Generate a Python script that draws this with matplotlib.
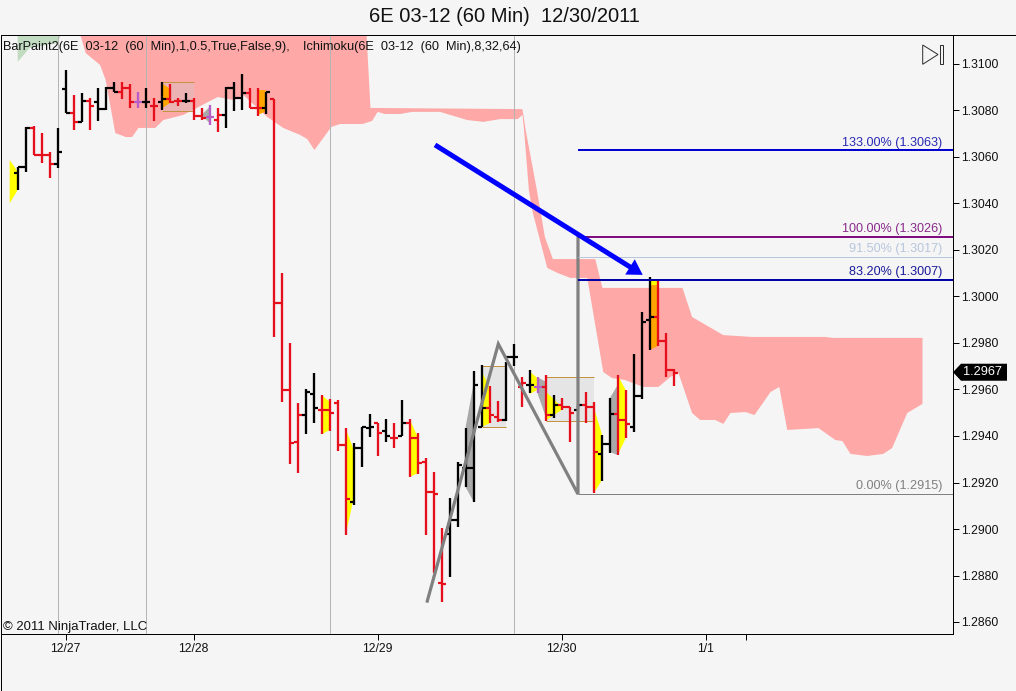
import matplotlib
matplotlib.use("Agg")
import matplotlib.pyplot as plt
from matplotlib.patches import Polygon, Rectangle
from matplotlib.lines import Line2D

plt.rcParams['font.family'] = ['Liberation Sans', 'DejaVu Sans']

W, H = 1016, 691
BG = '#F5F5F5'

# ---------- OHLC data, 60 min bars ----------
opens = [1.30533,1.30556,1.30723,1.30609,1.30609,1.3057,1.30894,1.30791,1.30752,1.30842,
 1.30835,1.30805,1.30898,1.30881,1.30895,1.30835,1.30835,1.30821,1.30835,1.30848,
 1.30842,1.30842,1.30842,1.30776,1.30771,1.30759,1.30781,1.30898,1.30852,1.30874,
 1.30812,1.30812,1.30851,1.29973,1.29598,1.29375,1.2949,1.29581,1.29512,1.29512,
 1.29543,1.29361,1.29118,1.2935,1.29433,1.29454,1.29421,1.29393,1.294,1.29454,
 1.29393,1.29287,1.29158,1.28766,1.28978,1.29039,1.29261,1.29261,1.2944,1.29522,
 1.29483,1.29469,1.29741,1.29609,1.29619,1.29612,1.29612,1.2949,1.29533,1.29523,
 1.29512,1.29533,1.29523,1.29323,1.29364,1.29493,1.29469,1.2944,1.29572,1.29899,
 1.29913,1.29809,1.29684]
highs = [1.30556,1.3073,1.30733,1.30702,1.30623,1.30723,1.30974,1.30867,1.30874,1.30852,
 1.30895,1.30903,1.30924,1.30924,1.30914,1.30881,1.30895,1.30852,1.30924,1.30914,
 1.30852,1.30874,1.30852,1.30812,1.30824,1.30812,1.30903,1.30924,1.30956,1.30895,
 1.30895,1.30881,1.30851,1.30102,1.29801,1.29543,1.29601,1.29672,1.29576,1.29558,
 1.29555,1.29433,1.29371,1.2944,1.29493,1.29454,1.29472,1.29454,1.29555,1.29472,
 1.29411,1.29304,1.29244,1.29003,1.29132,1.2929,1.29433,1.29681,1.29705,1.29615,
 1.29552,1.2972,1.29794,1.29652,1.29684,1.29655,1.29662,1.29576,1.29562,1.29526,
 1.29533,1.29591,1.29545,1.29404,1.29562,1.29662,1.29598,1.29751,1.29932,1.30085,
 1.3007,1.29842,1.29687]
lows = [1.30458,1.30537,1.30609,1.30576,1.30508,1.30551,1.30788,1.30716,1.30752,1.30716,
 1.30756,1.30802,1.30881,1.30848,1.30809,1.30809,1.30809,1.30756,1.30802,1.30831,
 1.30819,1.30831,1.30759,1.30759,1.30738,1.30709,1.30726,1.30799,1.30802,1.30809,
 1.30776,1.30785,1.29827,1.29548,1.29278,1.29239,1.29407,1.29457,1.29407,1.29423,
 1.29337,1.28974,1.29103,1.29268,1.29397,1.29315,1.29376,1.29347,1.294,1.29225,
 1.29237,1.28974,1.28809,1.28687,1.28795,1.2901,1.29179,1.29118,1.2944,1.29457,
 1.29462,1.29466,1.29701,1.29526,1.29583,1.29583,1.29466,1.29476,1.29512,1.29376,
 1.29512,1.29457,1.29153,1.29208,1.29325,1.29318,1.2939,1.29419,1.29559,1.2977,
 1.29787,1.29655,1.29616]
closes = [1.30556,1.30723,1.30609,1.30609,1.3057,1.30623,1.30791,1.30752,1.30842,1.30819,
 1.30805,1.30898,1.30881,1.30895,1.30835,1.30835,1.30835,1.30821,1.30848,1.30838,
 1.30842,1.30842,1.30776,1.30766,1.30771,1.30781,1.30898,1.30852,1.30874,1.30812,
 1.30812,1.30878,1.29973,1.29598,1.29371,1.2949,1.29591,1.29522,1.29512,1.295,
 1.29361,1.29129,1.2935,1.2944,1.2944,1.29411,1.29401,1.29393,1.29454,1.29393,
 1.29282,1.29158,1.29149,1.28762,1.29039,1.29275,1.29261,1.29619,1.29522,1.2949,
 1.29469,1.29741,1.29741,1.29629,1.29619,1.29612,1.2949,1.29533,1.29523,1.295,
 1.29533,1.29523,1.29333,1.29364,1.29493,1.29469,1.29452,1.29572,1.29892,1.29913,
 1.29809,1.29684,1.29669]
bar_kinds = "kkrrrkkrkrkkkrrpkrkrrkrrprkkkrrkrrrrkkrrrrkkkrkrkrrrrrkkkkkrrkkrkprkrrkrrkkrrkkkrrr"

# ---------- Ichimoku cloud ----------
cloud_lower_x = [6.2,7.2,8.5,10.3,11.0,12.2,13.5,14.3,15.1,17.2,18.2,20.7,25.0,27.0,28.2,31.2,33.2,35.3,36.2,37.1,
 39.2,40.3,43.1,44.3,45.0,45.9,47.8,49.3,52.8,56.2,58.2,60.3,62.5,63.1,63.3,63.9,64.4,66.2,67.5,69.1,71.2,73.2,
 74.3,75.9,78.2,80.1,81.6,82.6,84.3,85.3,87.2,88.2,89.1,91.0,92.1,94.1,95.2,96.2,100.1,102.2,103.1,104.1,
 106.2,108.2,109.3,111.2,113.1]
cloud_lower = [1.3120,1.3120,1.31047,1.30996,1.30931,1.30703,1.30686,1.30686,1.30725,1.30725,1.30759,1.30781,1.30858,1.30845,1.30867,1.30772,1.30725,1.30695,1.30677,1.3063,
 1.30729,1.30742,1.30742,1.30755,1.30794,1.30785,1.30785,1.30794,1.30794,1.30759,1.30751,1.30763,1.30763,1.30781,1.30716,1.30458,1.30359,1.30123,1.30101,1.3008,1.3008,1.29675,
 1.29649,1.29641,1.29611,1.29611,1.29654,1.29671,1.29499,1.29469,1.29469,1.29452,1.29499,1.29503,1.2949,1.29589,1.29611,1.29426,1.29434,1.29383,1.29378,1.29323,
 1.29314,1.29323,1.29348,1.29499,1.29538]
cloud_upper_x = [6.2,43.5,44.1,63.1,63.5,64.9,65.9,66.9,72.2,73.1,83.1,84.3,88.2,91.8,100.9,101.9,113.1]
cloud_upper = [1.3120,1.3120,1.30811,1.30806,1.30716,1.30458,1.30256,1.30161,1.30161,1.30037,1.30037,1.29912,1.29834,1.29826,1.29826,1.29822,1.29822]
green_x = [0,1.5,5,6.2]
green_lower = [1.31009,1.31069,1.3109,1.3120]

# ---------- BarPaint regions: kind, bars, upper prices, lower prices ----------
paint_kinds = ['y','o','g','o','y','y','y','g','y','y','g','y','y','g','y','o','y']
paint_bars = [(-1,0),(18,19),(23,24),(30,31),(38,39),(41,42),(49,50),(56,57),(58,59),(64,65),(65,66),(66,68),(72,73),(74,75),(75,76),(79,80),(79,80)]
paint_upper = [(1.30587,1.30537),(1.30917,1.30895),(1.30781,1.30816),(1.30888,1.30888),(1.29576,1.29547),(1.29433,1.2934),(1.29472,1.29397),(1.2944,1.29627),(1.29677,1.29612),(1.29677,1.29648),(1.29652,1.29634),(1.29591,1.29526),(1.29526,1.29411),(1.29562,1.29619),(1.29662,1.29598),(1.30049,1.3007),(1.30071,1.3007)]
paint_lower = [(1.30401,1.30458),(1.30809,1.30831),(1.30781,1.30745),(1.30781,1.30795),(1.29407,1.29426),(1.28974,1.29132),(1.29225,1.29239),(1.29179,1.29118),(1.2944,1.29454),(1.29581,1.29598),(1.29581,1.29483),(1.29466,1.29512),(1.29153,1.29208),(1.29332,1.29318),(1.29318,1.2939),(1.2977,1.29787),(1.30049,1.30049)]
box_bars = [(18,22),(58,61),(66,72)]
box_top = [1.30921,1.29701,1.29655]
box_bottom = [1.30799,1.29437,1.29466]

# ---------- Fibonacci and drawing tools ----------
fib_start = 70.04
fib_levels = [1.30628,1.30258,1.3017,1.30072,1.2915]
fib_labels = ['133.00% (1.3063)','100.00% (1.3026)','91.50% (1.3017)','83.20% (1.3007)','0.00% (1.2915)']
fib_colors = ['#0000D0','#7F0F7F','#B8C6DC','#0000A8','#808080']
fib_text_colors = ['#2A2AB4','#8A2A8A','#B8C6DC','#1A1A9A','#808080']
fib_widths = [2,2,1,2,1]
zig_x = [51.2,60.08,70.04,70.04]
zig_y = [1.2869,1.29796,1.2915,1.3026]
arrow_from = (52.17,1.30652)
arrow_to = (78.13,1.30093)
session_lines = [5,16,39,62]
x_ticks = [6,22,45,68,86,91]
x_labels = ['12/27','12/28','12/29','12/30','1/1','']
y_ticks = [1.286,1.288,1.290,1.292,1.294,1.296,1.298,1.300,1.302,1.304,1.306,1.308,1.310]
last_price = 1.2967

fig = plt.figure(figsize=(W/100, H/100), dpi=100, facecolor=BG)
left, right, top, bottom = 1.0, 953.0, 35.0, 634.0
ax = fig.add_axes([left/W, 1-bottom/H, (right-left)/W, (bottom-top)/H], facecolor=BG)
ax.set_xlim((left-17.67)/8, (right-17.67)/8)
ax.set_ylim(1.31-(bottom-64)/23250, 1.31+(64-top)/23250)

def px(n):
    return n*0.72

# cloud
ax.fill(green_x+[6.2,0], green_lower+[1.3120,1.3120], color='#C2DCC2', lw=0, zorder=1)
ax.fill(cloud_upper_x+cloud_lower_x[::-1], cloud_upper+cloud_lower[::-1], color='#FFA8A8', lw=0, zorder=1.2)

# session separators
for s in session_lines:
    ax.axvline(s, color='#B4B4B4', lw=px(1), zorder=1.5)

# boxes
for (a,b),t,bo in zip(box_bars, box_top, box_bottom):
    ax.add_patch(Rectangle((a,bo), b-a, t-bo, facecolor='#C8C8C8', alpha=0.35, lw=0, zorder=1.6))
    ax.plot([a,b],[t,t], color='#C49340', lw=px(1), zorder=1.7, solid_capstyle='butt')
    ax.plot([a,b],[bo,bo], color='#C49340', lw=px(1), zorder=1.7, solid_capstyle='butt')

# paint regions
paint_colors = {'y':'#FFFF00','o':'#FFA500','g':'#A9A9A9'}
for k,(a,b),u,l in zip(paint_kinds, paint_bars, paint_upper, paint_lower):
    ax.fill([a,b,b,a],[u[0],u[1],l[1],l[0]], color=paint_colors[k], lw=0, zorder=2)

# OHLC bars
bar_colors = {'k':'#000000','r':'#E6101C','p':'#B85CC8'}
for i,(o,h,l,c,k) in enumerate(zip(opens,highs,lows,closes,bar_kinds)):
    col = bar_colors[k]
    ax.plot([i,i],[l,h], color=col, lw=px(2.3), zorder=3, solid_capstyle='butt')
    ax.plot([i-0.5,i],[o,o], color=col, lw=px(2.2), zorder=3, solid_capstyle='butt')
    ax.plot([i,i+0.5],[c,c], color=col, lw=px(2.2), zorder=3, solid_capstyle='butt')

# zig zag
ax.plot(zig_x, zig_y, color='#808080', lw=px(3.2), zorder=4, solid_joinstyle='miter')

# fibs
for lev,lab,c,tc,w in zip(fib_levels,fib_labels,fib_colors,fib_text_colors,fib_widths):
    ax.plot([fib_start, ax.get_xlim()[1]],[lev,lev], color=c, lw=px(w), zorder=4.5, solid_capstyle='butt')
    ax.annotate(lab, xy=(1,lev), xycoords=('axes fraction','data'), xytext=(-11*0.72,1.2),
                textcoords='offset points', ha='right', va='bottom', color=tc, fontsize=9.05, zorder=5)

# arrow
ax.annotate('', xy=arrow_to, xytext=arrow_from,
            arrowprops=dict(width=px(5), headwidth=px(18), headlength=px(15), color='#0000FF', lw=0, shrink=0),
            zorder=6)

# axes styling
for s in ['top','left']:
    ax.spines[s].set_visible(False)
for s in ['right','bottom']:
    ax.spines[s].set_linewidth(px(1))
    ax.spines[s].set_color('black')
ax.yaxis.tick_right()
ax.set_yticks(y_ticks)
ax.set_yticklabels([f'{v:.4f}' for v in y_ticks])
ax.tick_params(axis='y', length=px(6), width=px(1), pad=1.5, labelsize=8.8, labelcolor='#111111')
ax.set_xticks(x_ticks)
ax.set_xticklabels(x_labels)
ax.tick_params(axis='x', length=px(6), width=px(1), pad=2.0, labelsize=8.8, labelcolor='#111111')

# texts
def ftext(x, y, s, **kw):
    fig.text(x/W, 1-y/H, s, **kw)

ftext(504, 17, '6E 03-12 (60 Min)  12/30/2011', ha='center', va='center', fontsize=14.5, color='#111111')
ftext(3, 47, 'BarPaint2(6E  03-12  (60  Min),1,0.5,True,False,9),', ha='left', va='center', fontsize=9.2, color='#111111')
ftext(303, 47, 'Ichimoku(6E  03-12  (60  Min),8,32,64)', ha='left', va='center', fontsize=9.15, color='#111111')
ftext(3, 627, '\u00a9 2011 NinjaTrader, LLC', ha='left', va='center', fontsize=9.45, color='#111111')

# outer frame and interface marks, in figure pixels
def P(x, y):
    return (x/W, 1-y/H)
fig.add_artist(Line2D([P(1016,34.5)[0],P(0.5,34.5)[0],P(0.5,690.5)[0],P(1016,690.5)[0]],
                      [P(1016,34.5)[1],P(0.5,34.5)[1],P(0.5,690.5)[1],P(1016,690.5)[1]],
                      color='black', lw=px(1), transform=fig.transFigure))
fig.add_artist(Polygon([P(922.7,45),P(938,54.5),P(922.7,64.3)], closed=True, fill=False, ec='#303030', lw=px(1), transform=fig.transFigure))
fig.add_artist(Rectangle(P(939.5,64), 3/W, 19/H, fill=False, ec='#303030', lw=px(1), transform=fig.transFigure))

# last price marker
yp = 64+(1.31-last_price)*23250 - 1
fig.add_artist(Polygon([P(953,yp),P(961,yp-8.5),P(1007,yp-8.5),P(1007,yp+8.5),P(961,yp+8.5)], closed=True, fc='black', ec='none', transform=fig.transFigure, zorder=8))
ftext(982, yp, f'{last_price:.4f}', ha='center', va='center', fontsize=9.2, color='white', zorder=9)

fig.savefig('out.png', dpi=100, facecolor=BG)
